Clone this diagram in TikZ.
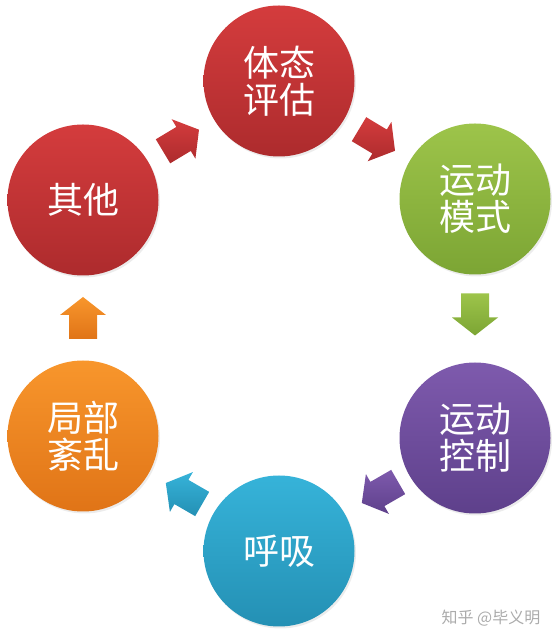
\documentclass[tikz,border=0pt]{standalone}
\usepackage{fontspec}
\newfontfamily\cjk{Noto Sans CJK SC}
\usetikzlibrary{calc,shadows}
\definecolor{redT}{HTML}{D43C3D}
\definecolor{redB}{HTML}{AD2B2D}
\definecolor{grnT}{HTML}{9DC44A}
\definecolor{grnB}{HTML}{7CA534}
\definecolor{purT}{HTML}{7E5AAD}
\definecolor{purB}{HTML}{5E408B}
\definecolor{bluT}{HTML}{36B3D9}
\definecolor{bluB}{HTML}{2490B4}
\definecolor{orgT}{HTML}{F8962C}
\definecolor{orgB}{HTML}{E07417}
\definecolor{wmark}{HTML}{ABABAB}
\tikzset{
  ball/.style={circle, minimum size=151pt, inner sep=0pt, text=white,
    font=\cjk\fontsize{36}{37}\selectfont, align=center,
    drop shadow={opacity=0.15, shadow xshift=1.5pt, shadow yshift=-2pt}},
  pics/blockarrow/.style args={#1/#2}{code={
    \shade[top color=#1, bottom color=#2]
      (-21,-14) -- (3,-14) -- (3,-23) -- (21,0) -- (3,23) -- (3,14) -- (-21,14) -- cycle;}}
}
\begin{document}
\begin{tikzpicture}[x=1pt,y=1pt]
\useasboundingbox (0,0) rectangle (558,642);
\node[ball, top color=redT, bottom color=redB] (A) at (279,561) {体态\\评估};
\node[ball, top color=grnT, bottom color=grnB] (B) at (475,443) {运动\\模式};
\node[ball, top color=purT, bottom color=purB] (C) at (475,204) {运动\\控制};
\node[ball, top color=bluT, bottom color=bluB] (D) at (279,91) {呼吸};
\node[ball, top color=orgT, bottom color=orgB] (E) at (83,206) {局部\\紊乱};
\node[ball, top color=redT, bottom color=redB] (F) at (83,442) {其他};
\coordinate (fa) at ($(F)!0.5!(A)$);
\coordinate (ab) at ($(A)!0.5!(B)$);
\coordinate (bc) at ($(B)!0.5!(C)+(0,4)$);
\coordinate (cd) at ($(C)!0.5!(D)+(3,2)$);
\coordinate (de) at ($(D)!0.5!(E)+(3,0)$);
\coordinate (ef) at ($(E)!0.5!(F)$);
\pic[rotate=31] at (fa) {blockarrow={redT/redB}};
\pic[rotate=-31] at (ab) {blockarrow={redT/redB}};
\pic[rotate=-90] at (bc) {blockarrow={grnT/grnB}};
\pic[rotate=210] at (cd) {blockarrow={purT/purB}};
\pic[rotate=150] at (de) {blockarrow={bluT/bluB}};
\pic[rotate=90] at (ef) {blockarrow={orgT/orgB}};
\node[text=wmark, font=\cjk\fontsize{16}{18}\selectfont, inner sep=0pt] (wm) at (491,24) {知乎 @毕义明};
\end{tikzpicture}
\end{document}
